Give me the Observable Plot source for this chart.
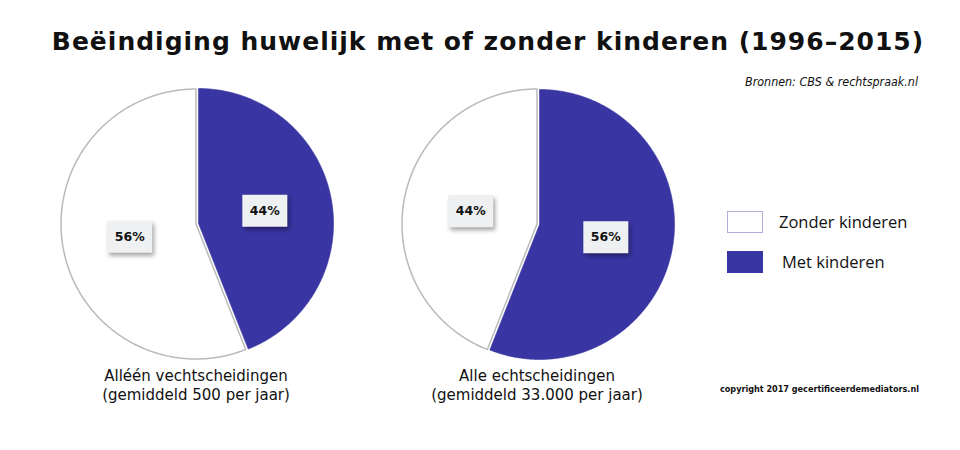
<!DOCTYPE html>
<html>
<head>
<meta charset="utf-8">
<script src="https://cdn.jsdelivr.net/npm/d3@7"></script>
<script src="https://cdn.jsdelivr.net/npm/@observablehq/plot@0.6"></script>
<style>
  body { margin: 0; background: #fff; }
  #wrap { position: relative; width: 960px; height: 450px; background: #fff; overflow: hidden; }
  .abs { position: absolute; white-space: nowrap; color: #111; }
  #chart svg g[aria-label="dot"] path { filter: drop-shadow(2px 3px 2px rgba(0,0,0,0.35)); }
</style>
</head>
<body>
<div id="wrap">
  <div class="abs" id="title" style="left:0;width:976px;top:27px;text-align:center;font:bold 25px/30px 'DejaVu Sans';letter-spacing:1px;"></div>
  <div class="abs" id="source" style="right:42px;top:74px;font:italic 12.4px 'DejaVu Sans Condensed';"></div>
  <div class="abs" id="copyright" style="left:720px;top:384px;font:bold 9px 'DejaVu Sans Condensed';"></div>
  <div id="legend"></div>
  <div id="chart" style="position:absolute;left:0;top:0;"></div>
</div>
<script>
const titleText = "Beëindiging huwelijk met of zonder kinderen (1996–2015)";
const sourceText = "Bronnen: CBS & rechtspraak.nl";
const copyrightText = "copyright 2017 gecertificeerdemediators.nl";
const charts = ["Alléén vechtscheidingen\n(gemiddeld 500 per jaar)", "Alle echtscheidingen\n(gemiddeld 33.000 per jaar)"];
const categories = ["Met kinderen", "Zonder kinderen"];
const metKinderen = [44, 56];
const zonderKinderen = [56, 44];
const colors = ["#3935a3", "#ffffff"];
const legendOrder = ["Zonder kinderen", "Met kinderen"];

document.getElementById("title").textContent = titleText;
document.getElementById("source").textContent = sourceText;
document.getElementById("copyright").textContent = copyrightText;

// legend
const legend = document.getElementById("legend");
legendOrder.forEach((c, i) => {
  const col = colors[categories.indexOf(c)];
  const isMet = c === "Met kinderen";
  const box = document.createElement("div");
  box.className = "abs";
  box.style.cssText = `left:727px;top:${isMet ? 251 : 211}px;width:${isMet ? 36 : 34}px;height:${isMet ? 22 : 20}px;background:${col};border:${isMet ? "none" : "1px solid #b0aed8"};`;
  legend.appendChild(box);
  const t = document.createElement("div");
  t.className = "abs";
  t.textContent = c;
  t.style.cssText = `left:${isMet ? 782 : 779}px;top:${isMet ? 251 : 211}px;font:500 16.5px 'Open Sans';line-height:22px;`;
  legend.appendChild(t);
});

// build pie slice outlines from the data
const explode = 0.019;
const slices = [];
const centroids = [];
charts.forEach((chart, j) => {
  const values = [metKinderen[j], zonderKinderen[j]];
  const arcs = d3.pie().sort(null).startAngle(0).endAngle(2 * Math.PI)(values);
  arcs.forEach((a, k) => {
    const cat = categories[k];
    const mid = (a.startAngle + a.endAngle) / 2;
    const off = cat === "Met kinderen" ? explode : 0;
    const ox = off * Math.sin(mid), oy = off * Math.cos(mid);
    const pts = [[ox, oy]];
    const n = Math.max(2, Math.ceil((a.endAngle - a.startAngle) / (Math.PI / 360)));
    for (let s = 0; s <= n; s++) {
      const t = a.startAngle + (a.endAngle - a.startAngle) * s / n;
      pts.push([ox + Math.sin(t), oy + Math.cos(t)]);
    }
    pts.push([ox, oy]);
    pts.forEach(([x, y], i) => slices.push({chart, cat, key: chart + cat, i, x, y}));
    centroids.push({chart, cat, value: a.value, x: ox + 0.5 * Math.sin(mid), y: oy + 0.5 * Math.cos(mid)});
  });
});

const rectSymbol = { draw(ctx) { ctx.rect(-22.5, -16, 45, 32); } };
const half = 1.263;

const plot = Plot.plot({
  width: 960,
  height: 450,
  marginLeft: 24.5,
  marginRight: 253.5,
  marginTop: 53,
  marginBottom: 56,
  fx: { domain: charts, padding: 0, axis: null },
  x: { domain: [-half, half], axis: null },
  y: { domain: [-half, half], axis: null },
  color: { domain: categories, range: colors },
  style: { background: "transparent", overflow: "visible" },
  marks: [
    Plot.line(slices.filter(d => d.cat === "Zonder kinderen"), {
      x: "x", y: "y", z: "key", fx: "chart", fill: "cat",
      stroke: "#bababa", strokeWidth: 1.5, strokeLinejoin: "round", curve: "linear"
    }),
    Plot.line(slices.filter(d => d.cat === "Met kinderen"), {
      x: "x", y: "y", z: "key", fx: "chart", fill: "cat",
      stroke: "cat", strokeWidth: 0.6, curve: "linear"
    }),
    Plot.dot(centroids, {
      x: "x", y: "y", fx: "chart", symbol: rectSymbol, r: 10,
      fill: "#eef0f1", stroke: "none"
    }),
    Plot.text(centroids, {
      x: "x", y: "y", fx: "chart", text: d => d.value + "%",
      fontSize: 12.5, fontWeight: "bold", fill: "#111",
      fontFamily: "DejaVu Sans"
    }),
    Plot.text(charts, {
      fx: d => d, text: d => d.split("\n")[0], frameAnchor: "bottom", lineAnchor: "middle",
      dy: -18, fontSize: 15, fill: "#111", fontFamily: "DejaVu Sans"
    }),
    Plot.text(charts, {
      fx: d => d, text: d => d.split("\n")[1], frameAnchor: "bottom", lineAnchor: "middle",
      dy: 0.5, fontSize: 15, fill: "#111", fontFamily: "DejaVu Sans"
    })
  ]
});
document.getElementById("chart").appendChild(plot);
</script>
</body>
</html>
